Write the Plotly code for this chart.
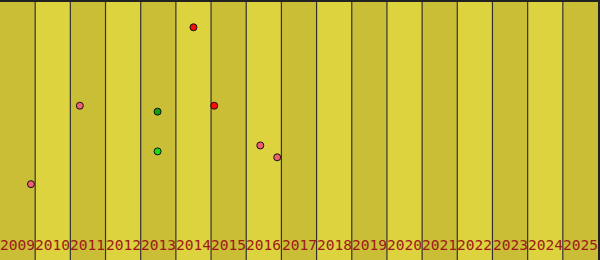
import plotly.graph_objects as go

years = list(range(2009, 2026))
tick_labels = [str(y) for y in years]

# series (x as fractional year, y as arbitrary 0-100 value)
salmon_x = [2009.88, 2011.27, 2016.40, 2016.88]
salmon_y = [29.4, 59.8, 44.4, 39.8]
red_x = [2014.50, 2015.09]
red_y = [90.2, 59.8]
green_x = [2013.48]
green_y = [57.5]
lime_x = [2013.48]
lime_y = [42.1]

light = "#dcd33e"
dark = "#c9be36"

fig = go.Figure()

shapes = []
for i, y in enumerate(years):
    shapes.append(dict(type="rect", xref="x", yref="paper", x0=y, x1=y + 1, y0=0, y1=1,
                       fillcolor=dark if i % 2 == 0 else light, line=dict(width=0), layer="below"))
for y in years[1:]:
    shapes.append(dict(type="line", xref="x", yref="paper", x0=y, x1=y, y0=0, y1=1,
                       line=dict(color="#333333", width=1.2), layer="below"))

annotations = [dict(x=y + 0.5, y=0, xref="x", yref="paper", text=t, showarrow=False,
                    xanchor="center", yanchor="bottom", yshift=5,
                    font=dict(family="DejaVu Sans Mono", size=14.6, color="#9e1a1a"))
               for y, t in zip(years, tick_labels)]

for xs, ys, col in [(salmon_x, salmon_y, "#f06070"), (red_x, red_y, "#ff0a0a"),
                    (green_x, green_y, "#12a012"), (lime_x, lime_y, "#14e014")]:
    fig.add_trace(go.Scatter(x=xs, y=ys, mode="markers",
                             marker=dict(size=7, color=col, line=dict(color="#111111", width=1)),
                             showlegend=False, hoverinfo="skip"))

fig.update_layout(
    width=600, height=260, margin=dict(l=0, r=0, t=0, b=0),
    paper_bgcolor=light, plot_bgcolor=light, shapes=shapes, annotations=annotations,
    xaxis=dict(range=[2009, 2026], showticklabels=False, ticks="", showgrid=False, zeroline=False,
               showline=True, mirror=True, linecolor="#222222", linewidth=2),
    yaxis=dict(range=[0, 100], showticklabels=False, ticks="", showgrid=False, zeroline=False,
               showline=True, mirror=True, linecolor="#222222", linewidth=2),
)

fig.write_html("out.html")
